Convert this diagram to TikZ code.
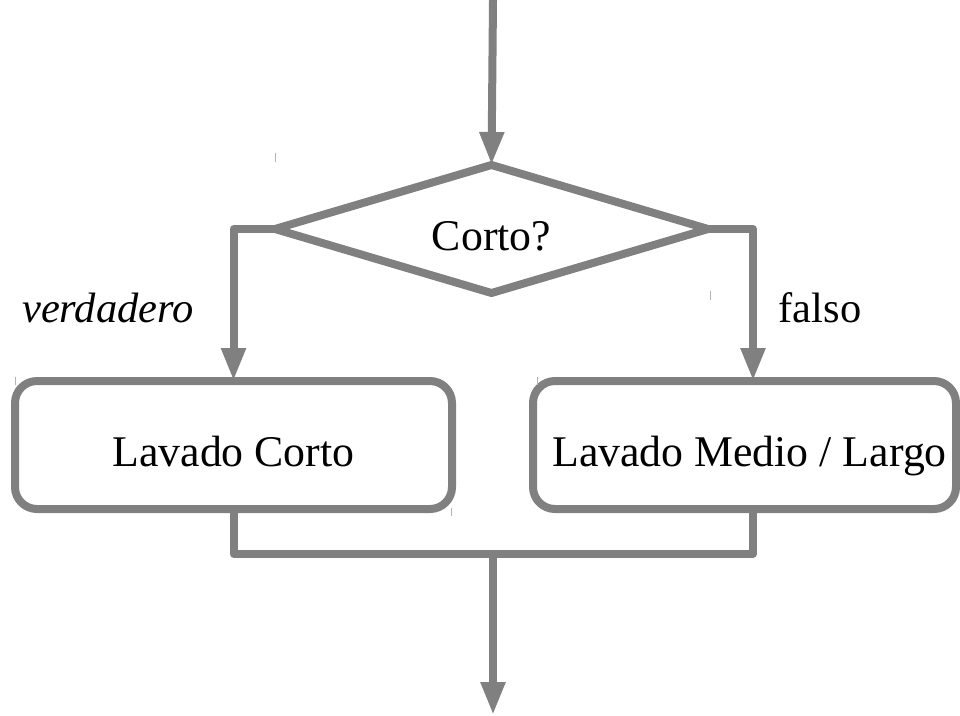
\documentclass[tikz,border=0pt]{standalone}
\usepackage{fontspec}
\setmainfont{Liberation Serif}
\usetikzlibrary{shapes.geometric,arrows.meta,calc}
\definecolor{flowgray}{HTML}{808080}
\begin{document}
\begin{tikzpicture}[x=1pt,y=-1pt,
  flow/.style={draw=flowgray,line width=8pt,line join=round},
  conn/.style={flow,-{Triangle[width=23pt,length=33pt]}},
  label/.style={font=\fontsize{43.8pt}{52pt}\selectfont,text height=42pt,text depth=0pt,inner sep=0pt,outer sep=0pt},
  decision/.style={flow,label,shape=diamond,aspect=3.38,minimum width=433pt,minimum height=128pt},
  process/.style={flow,label,rounded corners=22pt,minimum width=437pt,minimum height=128pt},
  branch/.style={font=\fontsize{42.5pt}{50pt}\selectfont,anchor=base,inner sep=0pt},
  tick/.style={draw=flowgray!60,line width=1pt}]
\useasboundingbox (0,0) rectangle (960,715);

% decision and the two washing steps
\node[decision] (dec) at (491.5,229) {Corto?};
\node[process] (short) at (233.5,445) {Lavado Corto};
\node[process,minimum width=423pt] (long) at (744.5,445) {\hspace*{10pt}Lavado Medio / Largo};

% entry and exit of the flow
\coordinate (entry) at (493,0);
\coordinate (merge) at (493,554);
\coordinate (exit) at (493,715);

\draw[conn] (entry) -- (dec.north);
\draw[conn] (dec.west) -| (short.north);
\draw[conn] (dec.east) -| ([xshift=8.5pt]long.north);
\draw[flow] (short.south) |- (merge) -| ([xshift=8.5pt]long.south);
\draw[conn] (merge) -- (exit);

% branch labels
\node[branch,font=\fontsize{42.5pt}{50pt}\selectfont\itshape] (yes) at (108,322) {verdadero};
\node[branch] (no) at (820,322) {falso};

% small corner marks
\draw[tick] (275,153) -- (275,162);
\draw[tick] (710,291) -- (710,300);
\draw[tick] (537,377) -- (537,385);
\draw[tick] (451,508) -- (451,516);
\draw[tick] (15,377) -- (15,385);
\end{tikzpicture}
\end{document}
